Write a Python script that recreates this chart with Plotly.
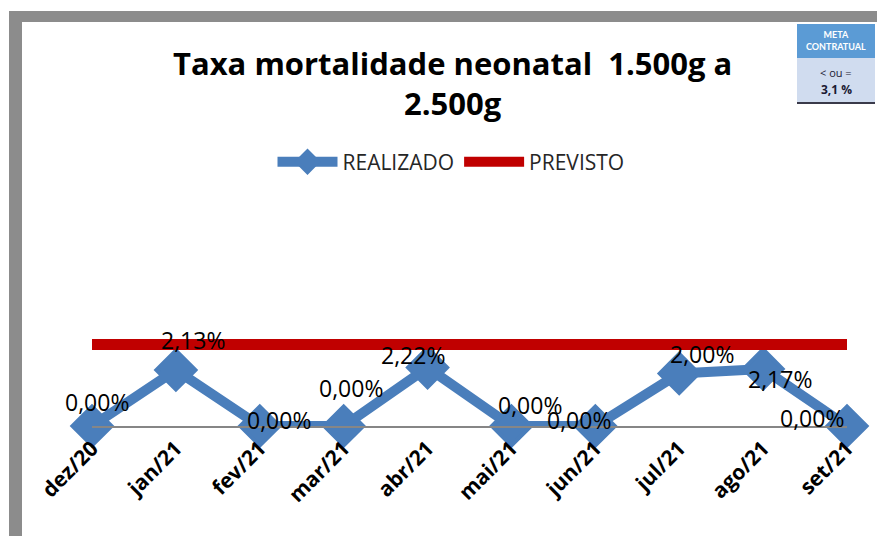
import plotly.graph_objects as go

categories = ["dez/20", "jan/21", "fev/21", "mar/21", "abr/21", "mai/21", "jun/21", "jul/21", "ago/21", "set/21"]
realizado = [0.00, 2.13, 0.00, 0.00, 2.22, 0.00, 0.00, 2.00, 2.17, 0.00]
previsto = [3.1] * len(categories)
label_texts = ["0,00%", "2,13%", "0,00%", "0,00%", "2,22%", "0,00%", "0,00%", "2,00%", "2,17%", "0,00%"]

W, H = 877, 536
L, R, T, B = 92, 30, 200, 110
PW, PH = W - L - R, H - T - B

def px(x):
    return (x - L) / PW

def py(y):
    return (H - B - y) / PH

label_shift = [(5, 24), (17, 30), (19, 6), (7, 38), (-15, 13), (19, 21), (-16, 6), (23, 19), (17, -10), (-35, 8)]

fig = go.Figure()
fig.add_trace(go.Scatter(
    x=categories, y=realizado, name="REALIZADO", mode="lines+markers",
    line=dict(color="#4a7ebb", width=10),
    marker=dict(symbol="diamond", size=30, color="#4a7ebb", line=dict(color="#4a7ebb", width=4)),
    cliponaxis=False,
))
fig.add_trace(go.Scatter(
    x=categories, y=previsto, name="PREVISTO", mode="lines",
    line=dict(color="#c00000", width=11),
    cliponaxis=False,
))

annotations = []
for c, v, t, (dx, dy) in zip(categories, realizado, label_texts, label_shift):
    annotations.append(dict(x=c, y=v, text=t, showarrow=False, xshift=dx, yshift=dy,
                            xanchor="center", yanchor="middle",
                            font=dict(family="Open Sans", size=23, color="#000000")))

annotations.append(dict(xref="paper", yref="paper", x=px(452), y=py(83),
                        xanchor="center", yanchor="middle",
                        text="<b>Taxa mortalidade neonatal  1.500g a<br>2.500g</b>",
                        showarrow=False, font=dict(family="Open Sans", size=31, color="#000000"),
                        align="center"))
# meta box texts
annotations.append(dict(xref="paper", yref="paper", x=px(836), y=py(41), text="<b>META<br>CONTRATUAL</b>",
                        xanchor="center", yanchor="middle",
                        showarrow=False, font=dict(family="Liberation Sans Narrow, Lato", size=9, color="#ffffff")))
annotations.append(dict(xref="paper", yref="paper", x=px(836), y=py(72), text="< ou =",
                        xanchor="center", yanchor="middle",
                        showarrow=False, font=dict(family="Open Sans", size=11, color="#1a1a33")))
annotations.append(dict(xref="paper", yref="paper", x=px(836), y=py(90), text="<b>3,1 %</b>",
                        xanchor="center", yanchor="middle",
                        showarrow=False, font=dict(family="Open Sans", size=12, color="#1a1a33")))

gray = "#8c8c8c"
shapes = [
    dict(type="rect", xref="paper", yref="paper", x0=px(9), x1=px(22), y0=py(H + 5), y1=py(11),
         fillcolor=gray, line=dict(width=0), layer="below"),
    dict(type="rect", xref="paper", yref="paper", x0=px(9), x1=px(W + 5), y0=py(22), y1=py(11),
         fillcolor=gray, line=dict(width=0), layer="below"),
    dict(type="rect", xref="paper", yref="paper", x0=px(797), x1=px(875), y0=py(58), y1=py(24),
         fillcolor="#5b9bd5", line=dict(width=0)),
    dict(type="rect", xref="paper", yref="paper", x0=px(797), x1=px(875), y0=py(102), y1=py(58),
         fillcolor="#d0dcef", line=dict(width=0)),
    dict(type="rect", xref="paper", yref="paper", x0=px(797), x1=px(875), y0=py(104), y1=py(102),
         fillcolor="#3a3a4a", line=dict(width=0)),
]

fig.update_layout(
    width=W, height=H,
    margin=dict(l=L, r=R, t=T, b=B, autoexpand=False),
    paper_bgcolor="#ffffff", plot_bgcolor="#ffffff",
    showlegend=True,
    legend=dict(orientation="h", x=px(451), y=py(162), xanchor="center", yanchor="middle",
                font=dict(family="Open Sans", size=21, color="#262626"), itemwidth=60,
                bgcolor="rgba(0,0,0,0)"),
    xaxis=dict(range=[0, 9], showgrid=False, zeroline=False, showline=True, linecolor="#868686",
               linewidth=2, tickangle=-45, ticks="", automargin=False,
               tickfont=dict(family="Open Sans", size=21, color="#000000", weight="bold")),
    yaxis=dict(range=[0, (H - B - T) / 26.3], visible=False, showgrid=False, zeroline=False),
    annotations=annotations,
    shapes=shapes,
)

fig.write_html("out.html", config={"displayModeBar": False},
               post_script="document.body.style.margin='0';")
